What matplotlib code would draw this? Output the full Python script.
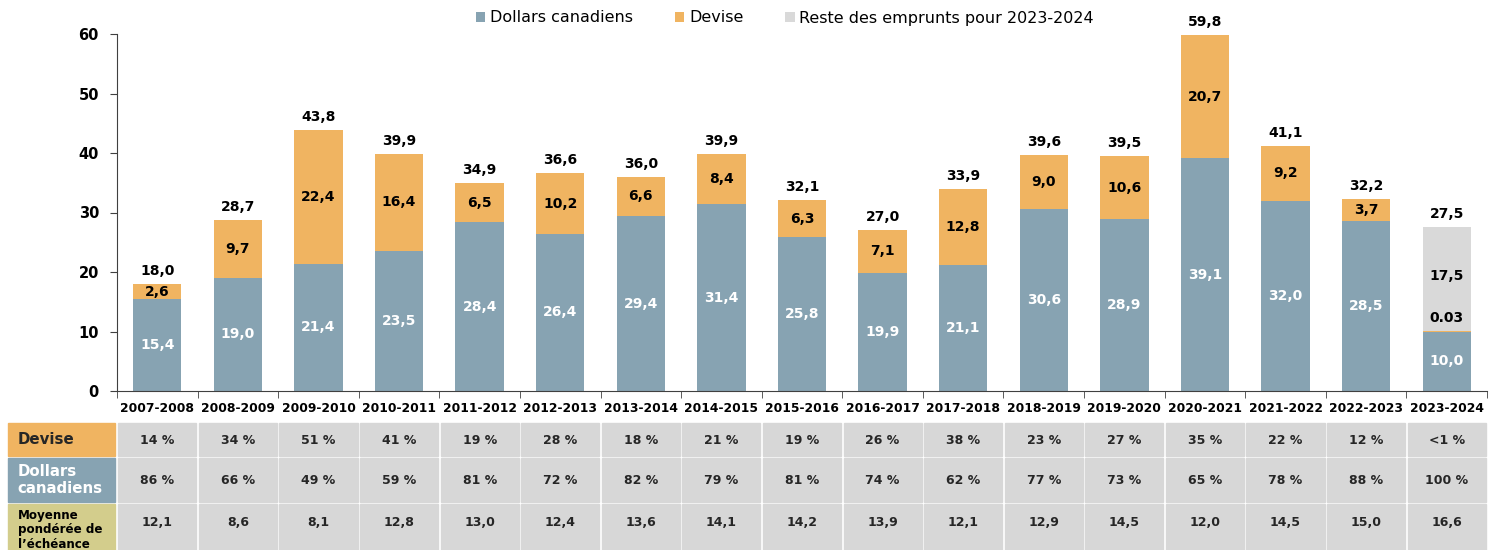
import matplotlib
matplotlib.use("Agg")
from matplotlib import pyplot as plt
from matplotlib.patches import Rectangle
import numpy as np

plt.rcParams['font.family'] = ['DejaVu Sans']

# données
annees = ["2007-2008", "2008-2009", "2009-2010", "2010-2011", "2011-2012", "2012-2013",
          "2013-2014", "2014-2015", "2015-2016", "2016-2017", "2017-2018", "2018-2019",
          "2019-2020", "2020-2021", "2021-2022", "2022-2023", "2023-2024"]
cad = [15.4, 19.0, 21.4, 23.5, 28.4, 26.4, 29.4, 31.4, 25.8, 19.9, 21.1, 30.6, 28.9, 39.1, 32.0, 28.5, 10.0]
devise = [2.6, 9.7, 22.4, 16.4, 6.5, 10.2, 6.6, 8.4, 6.3, 7.1, 12.8, 9.0, 10.6, 20.7, 9.2, 3.7, 0.03]
reste = [0, 0, 0, 0, 0, 0, 0, 0, 0, 0, 0, 0, 0, 0, 0, 0, 17.5]
totaux = [18.0, 28.7, 43.8, 39.9, 34.9, 36.6, 36.0, 39.9, 32.1, 27.0, 33.9, 39.6, 39.5, 59.8, 41.1, 32.2, 27.5]
pct_devise = ["14 %", "34 %", "51 %", "41 %", "19 %", "28 %", "18 %", "21 %", "19 %", "26 %",
              "38 %", "23 %", "27 %", "35 %", "22 %", "12 %", "<1 %"]
pct_cad = ["86 %", "66 %", "49 %", "59 %", "81 %", "72 %", "82 %", "79 %", "81 %", "74 %",
           "62 %", "77 %", "73 %", "65 %", "78 %", "88 %", "100 %"]
echeance = ["12,1", "8,6", "8,1", "12,8", "13,0", "12,4", "13,6", "14,1", "14,2", "13,9",
            "12,1", "12,9", "14,5", "12,0", "14,5", "15,0", "16,6"]

c_cad = "#87a3b2"
c_dev = "#f0b461"
c_reste = "#d9d9d9"
c_cell = "#d7d7d7"
c_ech = "#d3cd8c"

def fr(v):
    return ("%.1f" % v).replace(".", ",")

W, H = 1497, 550
fig = plt.figure(figsize=(W / 100, H / 100), dpi=100)
ax_l, ax_r = 117, 1487
ax = fig.add_axes([ax_l / W, (H - 391) / H, (ax_r - ax_l) / W, (391 - 34) / H])

x = np.arange(len(annees))
cad = np.array(cad)
devise = np.array(devise)
reste = np.array(reste)
bw = 0.6
ax.bar(x, cad, bw, color=c_cad, label="Dollars canadiens", zorder=2)
ax.bar(x, devise, bw, bottom=cad, color=c_dev, label="Devise", zorder=2)
ax.bar(x, reste, bw, bottom=cad + devise, color=c_reste, label="Reste des emprunts pour 2023-2024", zorder=2)

fs_bar = 10
for i in range(len(x)):
    ax.text(x[i], cad[i] / 2, fr(cad[i]), ha="center", va="center", color="white",
            fontsize=fs_bar, fontweight="bold")
    if reste[i] > 0:
        # petite tranche en devise : étiquette au-dessus
        ax.text(x[i], cad[i] + devise[i] + 2.3, "%.2f" % devise[i], ha="center", va="center",
                color="black", fontsize=fs_bar, fontweight="bold")
        ax.text(x[i], cad[i] + devise[i] + reste[i] / 2 + 0.5, fr(reste[i]), ha="center",
                va="center", color="black", fontsize=fs_bar, fontweight="bold")
    else:
        ax.text(x[i], cad[i] + devise[i] / 2, fr(devise[i]), ha="center", va="center",
                color="black", fontsize=fs_bar, fontweight="bold")
    ax.text(x[i], cad[i] + devise[i] + reste[i] + 2.2, fr(totaux[i]), ha="center", va="center",
            color="black", fontsize=fs_bar, fontweight="bold")

ax.set_xlim(-0.5, len(x) - 0.5)
ax.set_ylim(0, 60)
ax.set_yticks(range(0, 61, 10))
ax.set_xticks(x)
ax.set_xticklabels(annees, fontsize=8.9, fontweight="bold")
ax.set_xticks(np.arange(-0.5, len(x), 1), minor=True)
ax.tick_params(axis="x", which="major", length=0, pad=8)
ax.tick_params(axis="x", which="minor", length=5, direction="out", color="#404040")
ax.tick_params(axis="y", length=5, color="#404040", labelsize=10.5, pad=8)
for t in ax.get_yticklabels():
    t.set_fontweight("bold")
ax.spines["top"].set_visible(False)
ax.spines["right"].set_visible(False)
ax.spines["left"].set_color("#404040")
ax.spines["bottom"].set_color("#404040")

fig.legend(loc="center", bbox_to_anchor=(785 / W, 1 - 18 / H), ncol=3, frameon=False,
           fontsize=11.5, handlelength=0.6, handleheight=0.6, handletextpad=0.3, columnspacing=2.6)

# tableau sous le graphique
tb = fig.add_axes([ax_l / W, 0, (ax_r - ax_l) / W, (H - 420) / H])
tb.set_xlim(-0.5, len(x) - 0.5)
tb.set_ylim(550, 420)
tb.axis("off")
lignes = [
    ("Devise", pct_devise, c_dev, "#262626", 10.8, 423, 456, 441, 440),
    ("Dollars\ncanadiens", pct_cad, c_cad, "white", 10.8, 458, 502, 481, 480),
    ("Moyenne\npondérée de\nl\u2019échéance", echeance, c_ech, "black", 8.6, 504, 556, 522, 530),
]
g = 0.015
col_w = (ax_r - ax_l) / len(x)
hx0 = (8 - ax_l) / col_w - 0.5
hx1 = (115 - ax_l) / col_w - 0.5
for nom, vals, col, tcol, fs, y0, y1, yc, yh in lignes:
    tb.add_patch(Rectangle((hx0, y0), hx1 - hx0, y1 - y0, color=col, clip_on=False))
    tb.text(hx0 + 0.12, yh, nom, ha="left", va="center", color=tcol, fontsize=fs,
            fontweight="bold", linespacing=1.2, clip_on=False)
    for i, v in enumerate(vals):
        tb.add_patch(Rectangle((i - 0.5 + g, y0), 1 - 2 * g, y1 - y0, color=c_cell, clip_on=False))
        tb.text(i, yc, v, ha="center", va="center", fontsize=9, fontweight="bold", color="#262626")

fig.savefig("out.png", dpi=100)
